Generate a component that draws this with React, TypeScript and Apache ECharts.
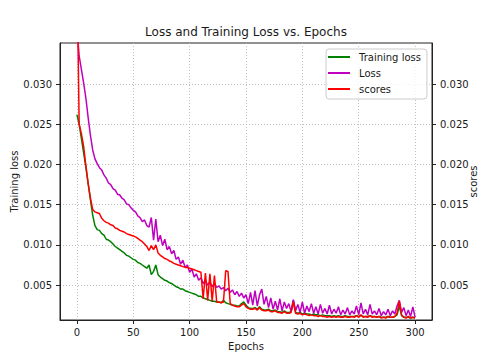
import React, { useEffect, useRef } from "react";
import * as echarts from "echarts";

const epochs: number[] = Array.from({ length: 151 }, (_, i) => i * 2);

const trainingLoss: number[] = [
  0.0262, 0.0250, 0.0232, 0.0214, 0.0196, 0.0176, 0.0156, 0.0137, 0.0124, 0.0119,
  0.0118, 0.0114, 0.0112, 0.0107, 0.0106, 0.0104, 0.0101, 0.0098, 0.0096, 0.0094,
  0.0092, 0.0090, 0.0087, 0.0086, 0.0084, 0.0082, 0.0081, 0.0078, 0.0077, 0.0075,
  0.0073, 0.0071, 0.0075, 0.0063, 0.0067, 0.0075, 0.0063, 0.0060, 0.0058, 0.0056,
  0.0055, 0.0053, 0.0052, 0.0050, 0.0048, 0.0047, 0.0045, 0.0045, 0.0043, 0.0042,
  0.0041, 0.0040, 0.0039, 0.0038, 0.0036, 0.0036, 0.0034, 0.0033, 0.0032, 0.0031,
  0.0030, 0.0030, 0.0029, 0.0029, 0.0028, 0.0031, 0.0028, 0.0027, 0.0026, 0.0025,
  0.0025, 0.0024, 0.0024, 0.0027, 0.0029, 0.0025, 0.0022, 0.0021, 0.0021, 0.0022,
  0.0020, 0.0023, 0.0020, 0.0019, 0.0019, 0.0020, 0.0018, 0.0018, 0.0019, 0.0017,
  0.0017, 0.0016, 0.0018, 0.0016, 0.0016, 0.0017, 0.0031, 0.0016, 0.0015, 0.0016,
  0.0014, 0.0015, 0.0014, 0.0014, 0.0013, 0.0014, 0.0013, 0.0013, 0.0012, 0.0013,
  0.0012, 0.0012, 0.0012, 0.0011, 0.0012, 0.0011, 0.0012, 0.0011, 0.0011, 0.0012,
  0.0011, 0.0011, 0.0011, 0.0011, 0.0012, 0.0011, 0.0012, 0.0011, 0.0011, 0.0011,
  0.0012, 0.0011, 0.0011, 0.0010, 0.0011, 0.0010, 0.0010, 0.0010, 0.0011, 0.0010,
  0.0010, 0.0011, 0.0013, 0.0024, 0.0012, 0.0010, 0.0010, 0.0010, 0.0009, 0.0010,
  0.0009,
];

const loss: number[] = [
  0.0370, 0.0335, 0.0318, 0.0301, 0.0282, 0.0258, 0.0236, 0.0218, 0.0207, 0.0201,
  0.0196, 0.0193, 0.0187, 0.0183, 0.0177, 0.0175, 0.0170, 0.0168, 0.0163, 0.0162,
  0.0158, 0.0156, 0.0151, 0.0150, 0.0146, 0.0143, 0.0141, 0.0136, 0.0134, 0.0129,
  0.0131, 0.0124, 0.0122, 0.0134, 0.0106, 0.0132, 0.0104, 0.0112, 0.0099, 0.0107,
  0.0094, 0.0098, 0.0089, 0.0093, 0.0082, 0.0085, 0.0076, 0.0081, 0.0072, 0.0075,
  0.0066, 0.0070, 0.0060, 0.0064, 0.0056, 0.0059, 0.0052, 0.0056, 0.0050, 0.0054,
  0.0048, 0.0052, 0.0047, 0.0049, 0.0045, 0.0047, 0.0043, 0.0046, 0.0041, 0.0044,
  0.0038, 0.0042, 0.0036, 0.0040, 0.0034, 0.0038, 0.0027, 0.0041, 0.0025, 0.0043,
  0.0024, 0.0038, 0.0045, 0.0026, 0.0036, 0.0022, 0.0034, 0.0020, 0.0030, 0.0019,
  0.0033, 0.0018, 0.0029, 0.0021, 0.0027, 0.0017, 0.0032, 0.0018, 0.0026, 0.0016,
  0.0029, 0.0015, 0.0024, 0.0017, 0.0027, 0.0015, 0.0023, 0.0014, 0.0026, 0.0015,
  0.0021, 0.0014, 0.0025, 0.0014, 0.0020, 0.0015, 0.0023, 0.0013, 0.0019, 0.0014,
  0.0022, 0.0013, 0.0018, 0.0014, 0.0024, 0.0013, 0.0028, 0.0014, 0.0020, 0.0013,
  0.0026, 0.0014, 0.0018, 0.0013, 0.0021, 0.0012, 0.0017, 0.0013, 0.0020, 0.0012,
  0.0018, 0.0014, 0.0024, 0.0031, 0.0016, 0.0022, 0.0012, 0.0019, 0.0011, 0.0023,
  0.0010,
];

const scores: number[] = [
  0.0450, 0.0250, 0.0238, 0.0222, 0.0198, 0.0176, 0.0158, 0.0144, 0.0141, 0.0140,
  0.0139, 0.0133, 0.0130, 0.0128, 0.0127, 0.0125, 0.0124, 0.0121, 0.0120, 0.0118,
  0.0117, 0.0116, 0.0114, 0.0113, 0.0112, 0.0111, 0.0110, 0.0108, 0.0106, 0.0104,
  0.0101, 0.0098, 0.0093, 0.0099, 0.0094, 0.0100, 0.0090, 0.0087, 0.0085, 0.0083,
  0.0082, 0.0080, 0.0079, 0.0077, 0.0076, 0.0075, 0.0074, 0.0073, 0.0072, 0.0072,
  0.0071, 0.0070, 0.0069, 0.0068, 0.0067, 0.0066, 0.0033, 0.0065, 0.0031, 0.0064,
  0.0030, 0.0062, 0.0029, 0.0029, 0.0028, 0.0029, 0.0068, 0.0067, 0.0027, 0.0025,
  0.0024, 0.0023, 0.0023, 0.0025, 0.0027, 0.0023, 0.0021, 0.0020, 0.0020, 0.0021,
  0.0019, 0.0022, 0.0019, 0.0018, 0.0018, 0.0019, 0.0017, 0.0017, 0.0018, 0.0016,
  0.0016, 0.0015, 0.0017, 0.0015, 0.0015, 0.0016, 0.0029, 0.0015, 0.0014, 0.0015,
  0.0013, 0.0014, 0.0013, 0.0012, 0.0013, 0.0012, 0.0012, 0.0011, 0.0012, 0.0011,
  0.0011, 0.0010, 0.0011, 0.0010, 0.0011, 0.0010, 0.0011, 0.0010, 0.0010, 0.0011,
  0.0010, 0.0010, 0.0011, 0.0010, 0.0012, 0.0010, 0.0013, 0.0010, 0.0011, 0.0010,
  0.0012, 0.0010, 0.0011, 0.0010, 0.0011, 0.0009, 0.0010, 0.0009, 0.0011, 0.0010,
  0.0010, 0.0011, 0.0015, 0.0030, 0.0013, 0.0010, 0.0009, 0.0011, 0.0009, 0.0010,
  0.0009,
];

const xTicks: number[] = [0, 50, 100, 150, 200, 250, 300];
const yTicks: number[] = [0.005, 0.01, 0.015, 0.02, 0.025, 0.03];

const FONT = "DejaVu Sans";
const INK = "#1a1a1a";

export default function App() {
  const ref = useRef<HTMLDivElement>(null);
  useEffect(() => {
    if (!ref.current) return;
    const chart = echarts.init(ref.current, undefined, { renderer: "svg" });
    const pair = (vals: number[]) => epochs.map((e, i) => [e, vals[i]]);
    const yMin = 0.00066;
    const yMax = 0.0351;
    const yAxisBase = (pos: "left" | "right", name: string, gap: number) => ({
      type: "value",
      position: pos,
      min: yMin,
      max: yMax,
      name,
      nameLocation: "middle",
      nameGap: gap,
      nameRotate: 90,
      nameMoveOverlap: false,
      nameTextStyle: { fontFamily: FONT, fontSize: 10, color: INK },
      axisLine: { show: true, onZero: false, lineStyle: { color: "#222", width: 1 } },
      axisTick: { show: true, length: 4, customValues: yTicks, lineStyle: { color: "#222" } },
      axisLabel: {
        show: true,
        customValues: yTicks,
        margin: 8,
        fontFamily: FONT,
        fontSize: 10,
        color: INK,
        formatter: (v: number) => v.toFixed(3),
      },
      splitLine: pos === "left"
        ? { show: true, lineStyle: { color: "#b0b0b0", type: [1, 2], width: 0.8 } }
        : { show: false },
    });
    chart.setOption({
      animation: false,
      backgroundColor: "#ffffff",
      textStyle: { fontFamily: FONT },
      graphic: [
        {
          type: "text",
          x: 246,
          y: 32,
          style: {
            text: "Loss and Training Loss vs. Epochs",
            fontFamily: FONT,
            fontSize: 12,
            fill: INK,
            textAlign: "center",
            textVerticalAlign: "middle",
          },
        },
      ],
      grid: {
        left: 60,
        right: 48,
        top: 43,
        bottom: 40,
        outerBoundsMode: "none",
        containLabel: false,
        show: true,
        borderColor: "#222",
        borderWidth: 1,
        backgroundColor: "transparent",
      },
      legend: {
        orient: "vertical",
        left: 326,
        top: 49,
        padding: [2, 6, 4, 2],
        itemGap: 4,
        itemWidth: 22,
        itemHeight: 2,
        backgroundColor: "rgba(255,255,255,0.8)",
        borderColor: "#cccccc",
        borderWidth: 1,
        borderRadius: 3,
        textStyle: { fontFamily: FONT, fontSize: 10, color: INK, lineHeight: 12, padding: [0, 0, 0, 4] },
        data: [
          { name: "Training loss", icon: "rect" },
          { name: "Loss", icon: "rect" },
          { name: "scores", icon: "rect" },
        ],
      },
      xAxis: {
        type: "value",
        min: -15,
        max: 315,
        name: "Epochs",
        nameLocation: "middle",
        nameGap: 20,
        nameTextStyle: { fontFamily: FONT, fontSize: 10, color: INK },
        axisLine: { show: true, onZero: false, lineStyle: { color: "#222", width: 1 } },
        axisTick: { show: true, length: 4, customValues: xTicks, lineStyle: { color: "#222" } },
        axisLabel: { show: true, customValues: xTicks, margin: 7, fontFamily: FONT, fontSize: 10, color: INK },
        splitLine: { show: true, lineStyle: { color: "#b0b0b0", type: [1, 2], width: 0.8 } },
      },
      yAxis: [yAxisBase("left", "Training loss", 41), yAxisBase("right", "scores", 36)],
      series: [
        {
          name: "Training loss",
          type: "line",
          yAxisIndex: 0,
          data: pair(trainingLoss),
          symbol: "none",
          color: "#008000",
          lineStyle: { width: 1.5, color: "#008000" },
          clip: true,
        },
        {
          name: "Loss",
          type: "line",
          yAxisIndex: 0,
          data: pair(loss),
          symbol: "none",
          color: "#bf00bf",
          lineStyle: { width: 1.5, color: "#bf00bf" },
          clip: true,
        },
        {
          name: "scores",
          type: "line",
          yAxisIndex: 1,
          data: pair(scores),
          symbol: "none",
          color: "#ff0000",
          lineStyle: { width: 1.5, color: "#ff0000" },
          clip: true,
        },
      ],
    });
    return () => chart.dispose();
  }, []);
  return (
    <div
      ref={ref}
      style={{ position: "fixed", left: 0, top: 0, width: 480, height: 360 }}
    />
  );
}
